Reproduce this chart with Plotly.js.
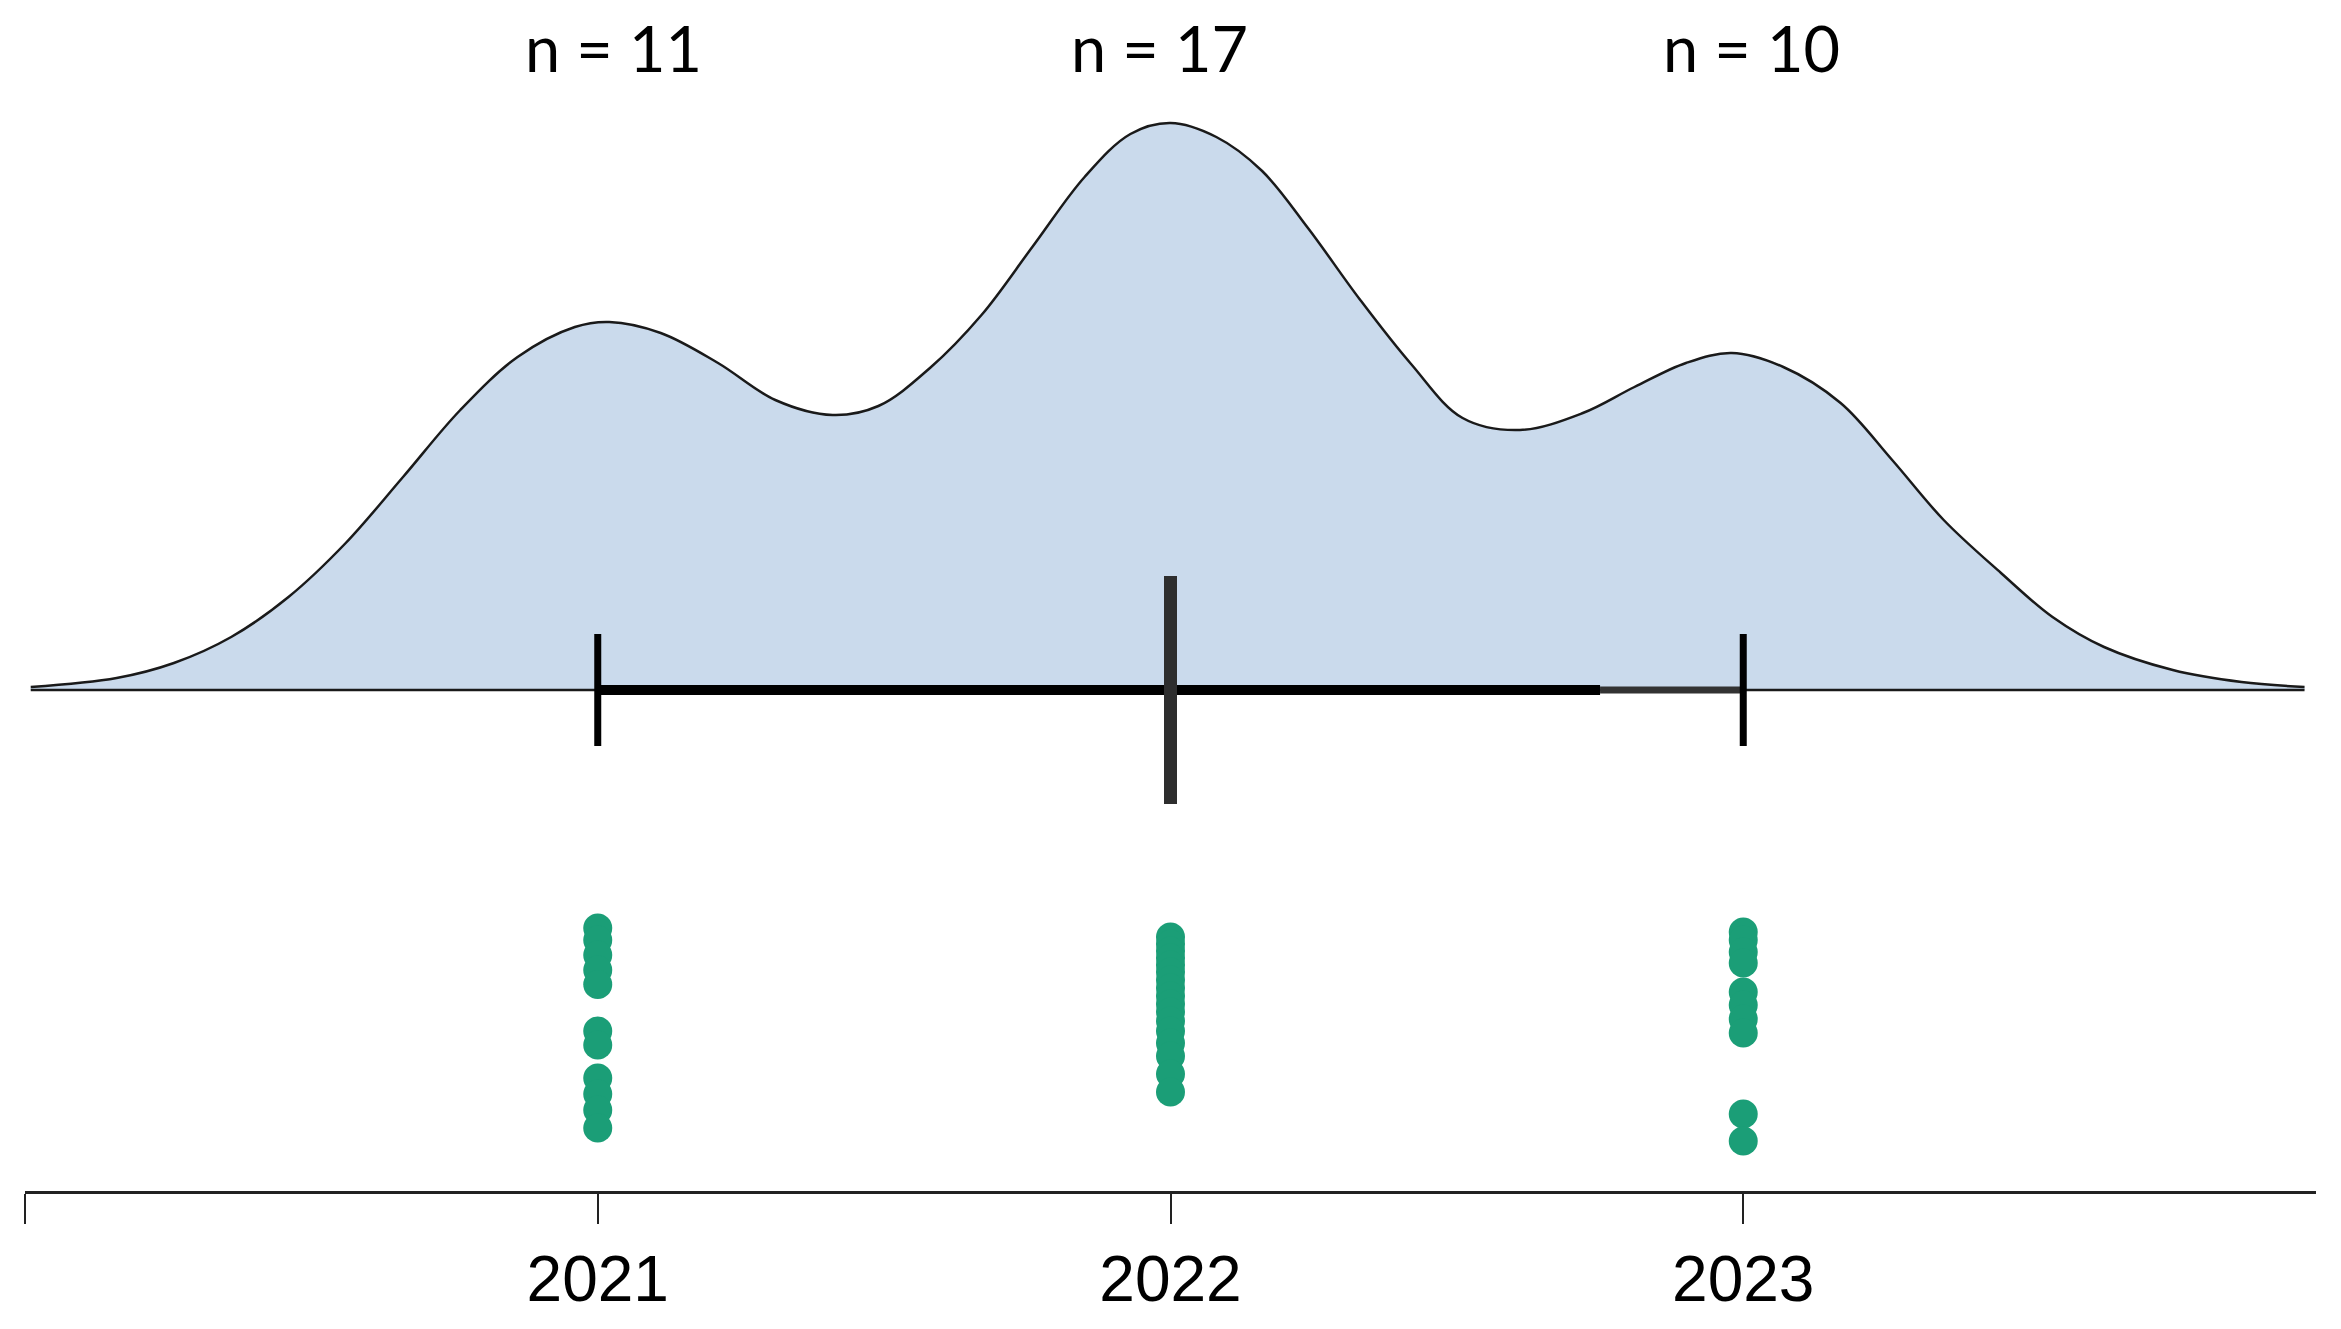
<!DOCTYPE html>
<html>
<head>
<meta charset="utf-8">
<script src="https://cdn.plot.ly/plotly-3.0.1.min.js"></script>
<style>
  html, body { margin: 0; padding: 0; background: #ffffff; }
  #chart { width: 2341px; height: 1329px; }
</style>
</head>
<body>
<div id="chart"></div>
<script>
// ---------------- data ----------------
const years = [2021, 2022, 2023];
const counts = [11, 17, 10];
const tickVals = [2020, 2021, 2022, 2023];
const tickText = ['', '2021', '2022', '2023'];

// density curve (relative height units)
const densityX = [2020.01, 2020.16, 2020.26, 2020.36, 2020.46, 2020.56, 2020.66, 2020.76, 2020.86, 2020.96,
  2021.02, 2021.11, 2021.21, 2021.31, 2021.41, 2021.49, 2021.58, 2021.67, 2021.76, 2021.85,
  2021.93, 2022.00, 2022.08, 2022.16, 2022.24, 2022.33, 2022.42, 2022.51, 2022.61, 2022.72,
  2022.81, 2022.90, 2022.98, 2023.07, 2023.17, 2023.26, 2023.35, 2023.45, 2023.54, 2023.63,
  2023.75, 2023.87, 2023.98];
const densityY = [0.03, 0.12, 0.27, 0.53, 0.93, 1.47, 2.13, 2.80, 3.33, 3.63,
  3.68, 3.57, 3.27, 2.90, 2.75, 2.84, 3.22, 3.75, 4.44, 5.13,
  5.56, 5.67, 5.53, 5.19, 4.62, 3.91, 3.26, 2.72, 2.60, 2.77,
  3.03, 3.27, 3.37, 3.23, 2.87, 2.30, 1.70, 1.17, 0.73, 0.43,
  0.20, 0.08, 0.03];

// box-plot summary
const statMin = 2021;
const statQ1 = 2021;
const statMedian = 2022;
const statQ3 = 2022.75;
const statMax = 2023;

// vertical jitter of the individual points (same relative units, below the baseline)
const jitter2021 = [-2.38, -2.50, -2.65, -2.80, -2.945, -3.41, -3.55, -3.88, -4.04, -4.20, -4.38];
const jitter2022 = [-2.47, -2.54, -2.61, -2.68, -2.75, -2.82, -2.90, -2.98, -3.06, -3.14, -3.22,
  -3.31, -3.41, -3.53, -3.66, -3.84, -4.02];
const jitter2023 = [-2.42, -2.50, -2.62, -2.73, -3.02, -3.15, -3.29, -3.43, -4.24, -4.51];

// ---------------- styles ----------------
const fillColor = 'rgb(202,218,236)';
const dotColor = '#1b9e77';
const capHalf = 0.56;
const medianHalf = 1.14;
const labelShift = [16, -11, 8];

const traces = [];

// density area
traces.push({
  type: 'scatter', mode: 'lines',
  x: densityX, y: densityY,
  fill: 'tozeroy', fillcolor: fillColor,
  line: { color: '#1a1a1a', width: 2.5, shape: 'spline', smoothing: 1 },
  hoverinfo: 'skip', showlegend: false
});
// density baseline
traces.push({
  type: 'scatter', mode: 'lines',
  x: [densityX[0], densityX[densityX.length - 1]], y: [0, 0],
  line: { color: '#1a1a1a', width: 2.5 },
  hoverinfo: 'skip', showlegend: false
});
// box (flat) from Q1 to Q3
traces.push({
  type: 'scatter', mode: 'lines',
  x: [statQ1, statQ3], y: [0, 0],
  line: { color: '#000000', width: 10 },
  hoverinfo: 'skip', showlegend: false
});
// whisker Q3 -> max
traces.push({
  type: 'scatter', mode: 'lines',
  x: [statQ3, statMax], y: [0, 0],
  line: { color: '#333333', width: 7 },
  hoverinfo: 'skip', showlegend: false
});
// min & max caps
[statMin, statMax].forEach(function (v) {
  traces.push({
    type: 'scatter', mode: 'lines',
    x: [v, v], y: [-capHalf, capHalf],
    line: { color: '#000000', width: 7 },
    hoverinfo: 'skip', showlegend: false
  });
});
// median
traces.push({
  type: 'scatter', mode: 'lines',
  x: [statMedian, statMedian], y: [-medianHalf, medianHalf],
  line: { color: '#2e2e2e', width: 13 },
  hoverinfo: 'skip', showlegend: false
});
// points
[jitter2021, jitter2022, jitter2023].forEach(function (arr, i) {
  traces.push({
    type: 'scatter', mode: 'markers',
    x: arr.map(function () { return years[i]; }),
    y: arr,
    marker: { color: dotColor, size: 29, line: { width: 0 } },
    hoverinfo: 'skip', showlegend: false
  });
});

const annotations = years.map(function (yr, i) {
  return {
    x: yr, y: 6.43, xref: 'x', yref: 'y',
    xshift: labelShift[i],
    text: 'n = ' + counts[i], showarrow: false,
    xanchor: 'center', yanchor: 'middle',
    font: { family: 'Lato, "Open Sans", sans-serif', size: 63, color: '#000000' }
  };
});

const layout = {
  width: 2341, height: 1329,
  paper_bgcolor: '#ffffff', plot_bgcolor: '#ffffff',
  margin: { l: 25, r: 25, t: 0, b: 138, pad: 0 },
  showlegend: false,
  xaxis: {
    range: [2020, 2024],
    showgrid: false, zeroline: false,
    showline: true, linecolor: '#222222', linewidth: 3,
    ticks: 'outside', ticklen: 30, tickwidth: 2, tickcolor: '#222222',
    tickmode: 'array', tickvals: tickVals, ticktext: tickText,
    tickfont: { family: '"Liberation Sans", Arial, sans-serif', size: 64, color: '#000000' },
    fixedrange: true
  },
  yaxis: {
    range: [-5.01, 6.90],
    visible: false, showgrid: false, zeroline: false, fixedrange: true
  },
  annotations: annotations
};

Plotly.newPlot('chart', traces, layout, { displayModeBar: false, staticPlot: true });
</script>
</body>
</html>
